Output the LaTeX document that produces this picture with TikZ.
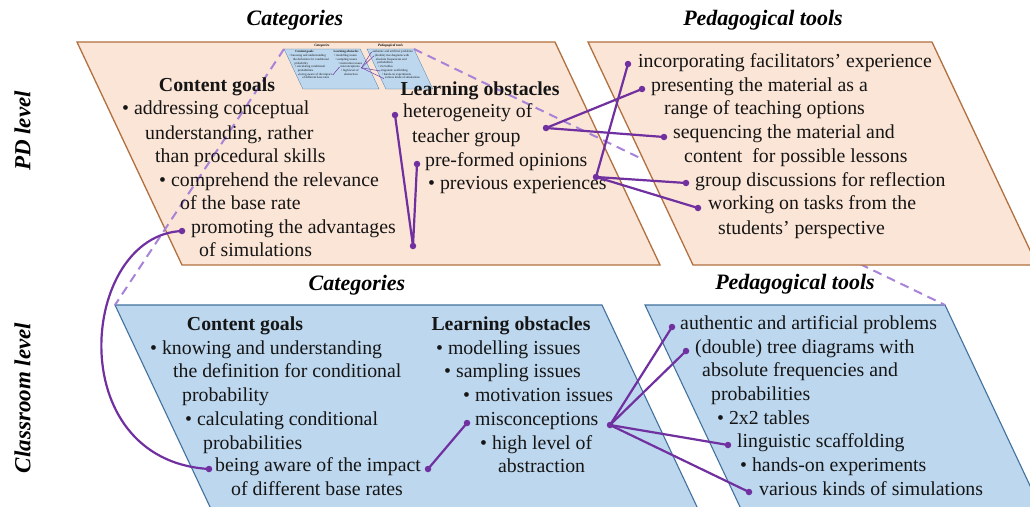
\documentclass[tikz,border=0pt]{standalone}
\usepackage{fontspec}
\setmainfont{Liberation Serif}
\definecolor{peach}{HTML}{FBE5D6}
\definecolor{peachline}{HTML}{B0703F}
\definecolor{bluefillc}{HTML}{BDD7EE}
\definecolor{blueline}{HTML}{41719C}
\definecolor{conncol}{HTML}{7030A0}
\definecolor{dashcol}{HTML}{A883D8}
\definecolor{textc}{HTML}{151515}
\tikzset{
 txt/.style={anchor=mid west, inner sep=0pt, text=textc, font=\fontsize{19.8}{24}\selectfont},
 hd/.style={anchor=mid, inner sep=0pt, text=textc, font=\fontsize{19.8}{24}\selectfont\bfseries},
 ttl/.style={anchor=mid, inner sep=0pt, text=black, font=\fontsize{22}{26}\selectfont\bfseries\itshape},
 cdot/.style={circle, fill=conncol, inner sep=0pt, minimum size=6.5pt},
 conn/.style={draw=conncol, line width=2.2pt},
 peachpar/.style={fill=peach, draw=peachline, line width=1.3pt},
 bluepar/.style={fill=bluefillc, draw=blueline, line width=1.1pt},
 zoomline/.style={draw=dashcol, line width=2pt, dash pattern=on 9pt off 6pt},
}
\newcommand{\ClassroomPart}{%
 \coordinate (bTL) at (115,305);
 \coordinate (bTR) at (945,305);
 \path[bluepar] (bTL) -- (602,305) -- (722,560) -- (235,560) -- cycle;
 \path[bluepar] (645,305) -- (bTR) -- (1065,560) -- (765,560) -- cycle;
 \node[ttl] (ccat) at (357,288) {Categories};
 \node[ttl] (cped) at (795,287) {Pedagogical tools};
 \node[hd] (ccg) at (245,328) {Content goals};
 \node[txt] (cc1) at (150,352) {• knowing and understanding};
 \node[txt] (cc2) at (173,375) {the definition for conditional};
 \node[txt] (cc3) at (182,399) {probability};
 \node[txt] (cc4) at (185,423) {• calculating conditional};
 \node[txt] (cc5) at (203,447) {probabilities};
 \node[txt] (cc6) at (215,469) {being aware of the impact};
 \node[txt] (cc7) at (231,493) {of different base rates};
 \node[hd] (clo) at (511,328) {Learning obstacles};
 \node[txt] (cl1) at (436,352) {• modelling issues};
 \node[txt] (cl2) at (444,375) {• sampling issues};
 \node[txt] (cl3) at (463,399) {• motivation issues};
 \node[txt] (cl4) at (475,423) {misconceptions};
 \node[txt] (cl5) at (480,447) {• high level of};
 \node[txt] (cl6) at (498,470) {abstraction};
 \node[txt] (cp1) at (680,327) {authentic and artificial problems};
 \node[txt] (cp2) at (695,351) {(double) tree diagrams with};
 \node[txt] (cp3) at (702,374) {absolute frequencies and};
 \node[txt] (cp4) at (711,398) {probabilities};
 \node[txt] (cp5) at (717,422) {• 2x2 tables};
 \node[txt] (cp6) at (737,445) {linguistic scaffolding};
 \node[txt] (cp7) at (740,469) {• hands-on experiments};
 \node[txt] (cp8) at (759,493) {various kinds of simulations};
 \node[cdot] (dimpL) at (209,469) {};
 \node[cdot] (dimpR) at (428,469) {};
 \node[cdot] (dmisL) at (467,423) {};
 \node[cdot] (dmisR) at (610,425) {};
 \node[cdot] (dauth) at (672,327) {};
 \node[cdot] (ddbl) at (686,351) {};
 \node[cdot] (dling) at (728,445) {};
 \node[cdot] (dvar) at (749,492) {};
 \draw[conn] (dimpR.center) -- (dmisL.center);
 \draw[conn] (dmisR.center) -- (dauth.center);
 \draw[conn] (dmisR.center) -- (ddbl.center);
 \draw[conn] (dmisR.center) -- (dling.center);
 \draw[conn] (dmisR.center) -- (dvar.center);
}
\begin{document}
\begin{tikzpicture}[x=1pt,y=-1pt]
\useasboundingbox (0,0) rectangle (1030,506);
\fill[white] (0,0) rectangle (1030,506);
% PD level, categories
\path[peachpar] (77,42) -- (555,42) -- (660,265) -- (182,265) -- cycle;
% thumbnail of classroom level
\begin{scope}[shift={(266.0,1.24)}, scale=0.1566, transform shape, name prefix=t-,
  conn/.style={draw=conncol, line width=0.45pt},
  bluepar/.style={fill=bluefillc, draw=blueline, line width=0.25pt}]
 \ClassroomPart
\end{scope}
% classroom level
\ClassroomPart
% zoom lines
\draw[zoomline] (t-bTL) -- (bTL);
\draw[zoomline] (t-bTR) -- (bTR);
% PD level, pedagogical tools
\path[peachpar] (588,42) -- (932,42) -- (1037,265) -- (693,265) -- cycle;
% titles
\node[ttl] (tcat) at (295,23) {Categories};
\node[ttl] (tped) at (763,23) {Pedagogical tools};
\node[ttl, rotate=90, font=\fontsize{23}{26}\selectfont\bfseries\itshape] (pdl) at (28,131) {PD level};
\node[ttl, rotate=90, font=\fontsize{23}{26}\selectfont\bfseries\itshape] (cll) at (28,398) {Classroom level};
% PD categories text
\node[hd] (pcg) at (217,89) {Content goals};
\node[txt] (pc1) at (122,112) {• addressing conceptual};
\node[txt] (pc2) at (145,137) {understanding, rather};
\node[txt] (pc3) at (155,160) {than procedural skills};
\node[txt] (pc4) at (159,184) {• comprehend the relevance};
\node[txt] (pc5) at (180,207) {of the base rate};
\node[txt] (pc6) at (191,231) {promoting the advantages};
\node[txt] (pc7) at (199,254) {of simulations};
\node[hd] (plo) at (480,93) {Learning obstacles};
\node[txt] (pl1) at (403,115) {heterogeneity of};
\node[txt] (pl2) at (412,140) {teacher group};
\node[txt] (pl3) at (425,164) {pre-formed opinions};
\node[txt] (pl4) at (428,187) {• previous experiences};
% PD tools text
\node[txt] (pt1) at (638,65) {incorporating facilitators’ experience};
\node[txt] (pt2) at (651,89) {presenting the material as a};
\node[txt] (pt3) at (664,112) {range of teaching options};
\node[txt] (pt4) at (673,136) {sequencing the material and};
\node[txt] (pt5) at (684,160) {content\ \ for possible lessons};
\node[txt] (pt6) at (695,184) {group discussions for reflection};
\node[txt] (pt7) at (708,207) {working on tasks from the};
\node[txt] (pt8) at (718,232) {students’ perspective};
% PD dots
\node[cdot] (dprom) at (182,231) {};
\node[cdot] (dhet) at (395,115) {};
\node[cdot] (dpre) at (417,164) {};
\node[cdot] (dV) at (413,246) {};
\node[cdot] (dA) at (546,128) {};
\node[cdot] (dB) at (596,177) {};
\node[cdot] (dinc) at (628,64) {};
\node[cdot] (dpres) at (642,89) {};
\node[cdot] (dseq) at (664,137) {};
\node[cdot] (dgrp) at (686,183) {};
\node[cdot] (dwork) at (698,208) {};
% PD connectors
\draw[conn] (dhet.center) -- (dV.center) -- (dpre.center);
\draw[conn] (dA.center) -- (dpres.center);
\draw[conn] (dA.center) -- (dseq.center);
\draw[conn] (dB.center) -- (dinc.center);
\draw[conn] (dB.center) -- (dgrp.center);
\draw[conn] (dB.center) -- (dwork.center);
\draw[conn] (dprom.center) .. controls (80,235) and (60,460) .. (dimpL.center);
\end{tikzpicture}
\end{document}
